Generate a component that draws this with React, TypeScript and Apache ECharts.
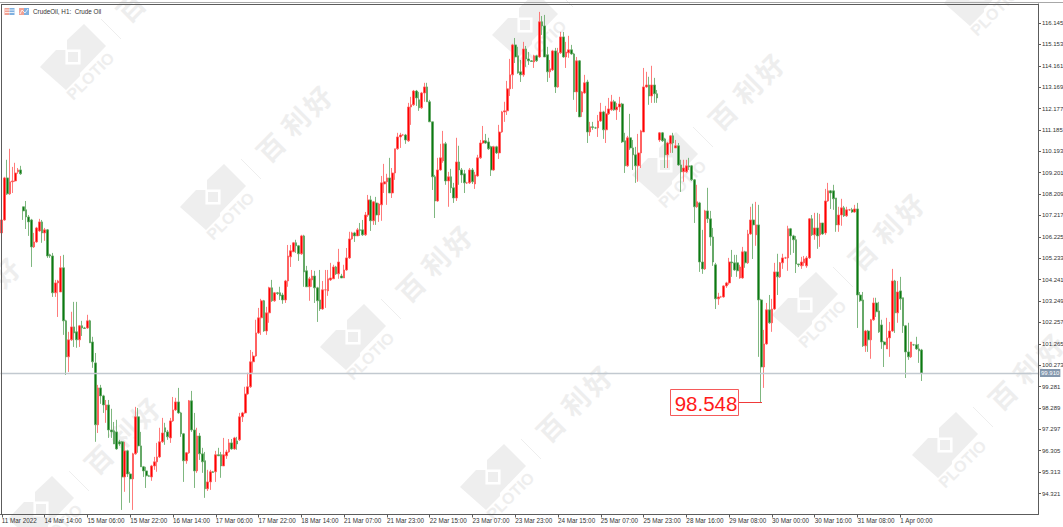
import React, { useEffect, useRef } from "react";
import * as echarts from "echarts";

const dateLabels = ["11 Mar 2022","14 Mar 14:00","15 Mar 06:00","15 Mar 22:00","16 Mar 14:00","17 Mar 06:00","17 Mar 22:00","18 Mar 14:00","21 Mar 07:00","21 Mar 23:00","22 Mar 15:00","23 Mar 07:00","23 Mar 23:00","24 Mar 15:00","25 Mar 07:00","25 Mar 23:00","28 Mar 16:00","29 Mar 08:00","30 Mar 00:00","30 Mar 16:00","31 Mar 08:00","1 Apr 00:00"];
const priceTicks = [94.321,95.313,96.305,97.297,98.289,99.281,100.273,101.265,102.257,103.249,104.241,105.233,106.225,107.217,108.209,109.201,110.193,111.185,112.177,113.169,114.161,115.153,116.145];
const lastPrice = 99.91;
const lowestLabel = "98.548";

const opens = [
106.41,107.01,108.96,108.22,108.78,108.82,109.24,109.33,107.62,107.48,
107.15,107.01,105.76,105.99,106.50,106.92,106.41,106.55,105.39,105.34,
103.63,104.09,103.67,104.79,102.33,100.66,101.45,102.05,101.82,101.45,
102.10,102.00,102.00,102.33,101.35,100.38,97.51,99.22,98.85,98.20,
98.43,97.27,97.23,97.18,96.72,96.72,95.09,96.30,95.23,95.00,
96.16,97.88,96.53,95.56,95.37,95.14,95.09,95.60,95.79,96.02,
96.72,97.37,97.18,96.90,97.69,98.20,98.57,98.06,97.09,95.84,
96.21,98.62,97.27,95.37,96.99,96.16,95.84,94.54,94.86,95.33,
95.33,96.12,96.12,95.60,96.07,96.25,96.67,96.39,96.76,96.81,
97.88,98.06,98.94,99.27,100.43,100.70,101.77,102.47,103.26,101.86,
102.70,103.86,103.26,103.63,103.63,103.53,103.30,104.18,105.30,105.53,
105.95,105.81,105.44,106.27,104.65,103.91,104.23,104.41,103.86,103.30,
102.88,103.77,103.72,104.23,104.28,104.83,104.51,104.41,104.32,104.69,
105.25,106.13,106.41,106.27,106.55,106.55,106.32,107.24,107.94,106.97,
107.80,107.24,107.71,108.68,108.78,108.96,108.26,109.19,110.31,110.86,
110.95,110.95,110.68,112.25,112.35,112.99,112.58,112.21,112.90,113.18,
112.49,111.56,109.01,107.89,109.33,109.75,110.54,108.82,109.01,108.50,
108.03,109.70,109.33,109.15,108.73,108.73,109.33,108.68,109.05,109.89,
110.58,110.68,110.63,110.40,109.33,110.40,110.12,111.09,112.02,112.07,
113.09,113.74,115.13,114.62,113.88,113.74,114.94,114.48,114.39,114.34,
114.62,114.57,116.20,116.01,114.67,113.88,113.97,114.85,113.18,114.76,
115.50,114.57,114.76,114.90,114.71,112.95,114.39,112.02,112.90,113.41,
111.09,111.33,111.28,111.28,111.60,112.02,111.19,111.93,112.12,112.49,
112.12,112.25,112.39,110.68,109.52,110.82,110.35,110.03,109.52,110.12,
111.09,113.18,113.27,112.76,113.27,112.86,110.72,111.05,110.77,110.03,
110.54,110.91,110.35,110.45,109.56,109.24,109.24,109.52,109.52,108.87,
107.62,107.80,105.06,104.74,107.43,107.06,106.22,104.93,103.35,103.44,
103.44,103.95,104.09,105.06,105.02,105.02,104.32,104.32,105.53,105.02,
106.36,107.01,106.32,106.78,103.30,100.19,101.26,102.84,102.24,102.88,
104.60,104.37,105.02,105.25,105.25,106.60,106.27,106.09,104.97,104.88,
105.02,104.88,105.25,107.06,106.32,106.64,106.32,106.87,106.41,107.89,
108.36,108.36,108.03,106.78,107.24,107.57,107.20,107.48,107.48,107.38,
107.52,103.53,103.30,101.17,101.86,101.45,102.38,103.16,102.79,102.14,
101.35,101.03,101.54,101.86,104.18,102.70,103.72,103.40,102.10,100.89,
100.66,101.22,101.22,101.03,100.98];

const closes = [
107.01,108.96,108.22,108.78,108.82,109.19,109.33,109.15,107.43,107.15,
106.92,105.76,105.99,106.64,106.92,106.41,106.55,105.34,105.34,103.63,
104.09,104.18,104.79,102.33,100.66,101.45,102.05,101.77,101.45,102.10,
102.00,101.98,102.33,101.31,100.43,97.51,99.22,98.85,98.43,98.43,
97.27,97.18,96.62,96.39,96.62,95.09,96.30,95.23,95.00,96.16,
97.88,96.53,95.56,95.37,95.14,95.12,95.60,95.79,96.02,96.72,
97.13,97.18,96.95,97.69,98.20,98.57,98.06,97.09,95.84,96.21,
98.62,97.27,95.37,96.99,96.16,95.79,94.54,94.86,95.33,95.30,
96.12,96.07,95.60,96.12,96.25,96.67,96.39,96.90,96.62,97.88,
98.06,98.94,99.27,100.43,100.70,101.77,102.47,103.26,101.86,102.70,
103.86,103.26,103.63,103.60,103.49,103.30,104.18,105.34,105.58,105.95,
105.81,105.44,106.27,104.60,103.91,104.28,104.41,103.86,103.26,102.88,
103.77,103.77,104.28,104.32,104.83,104.51,105.06,104.32,104.69,105.25,
106.13,106.41,106.27,106.55,106.53,106.32,107.24,107.94,106.97,107.85,
107.24,107.75,108.73,108.78,108.96,108.26,109.19,110.31,110.86,110.95,
110.95,110.72,112.25,112.35,112.99,112.67,112.21,112.90,113.18,112.49,
111.56,109.01,107.89,109.33,109.89,110.54,108.82,109.01,108.50,108.03,
109.70,109.33,109.10,108.73,108.73,109.33,108.78,109.10,109.89,110.58,
110.68,110.58,110.31,109.33,110.40,110.12,111.09,112.02,112.07,113.09,
113.74,115.13,114.57,113.83,113.74,114.94,114.48,114.39,114.36,114.62,
114.39,116.20,116.01,114.57,113.88,114.02,114.85,113.18,114.76,115.50,
114.57,114.80,114.90,114.71,112.95,114.39,111.79,112.95,113.37,111.09,
111.33,111.30,111.28,111.60,112.02,111.19,111.93,112.16,112.49,112.12,
112.25,112.39,110.63,109.52,110.82,110.35,110.03,109.52,110.12,111.14,
113.18,113.27,112.76,113.27,112.86,112.67,111.05,110.68,110.03,110.58,
110.91,110.58,110.45,109.56,109.24,109.42,109.52,109.47,108.87,107.62,
107.85,105.06,104.74,107.43,107.06,106.22,105.06,103.35,103.44,103.44,
103.95,104.09,105.06,105.02,104.69,104.65,104.83,105.53,105.02,106.36,
107.01,106.78,106.78,103.30,100.19,101.26,102.84,102.24,102.88,104.60,
104.37,105.02,105.25,105.25,106.60,106.27,106.09,104.97,104.93,105.06,
105.20,105.25,107.06,106.32,106.64,106.27,106.87,106.36,107.89,108.36,
108.26,107.99,106.78,107.24,107.57,107.20,107.48,107.48,107.38,107.52,
103.53,103.26,101.17,101.86,101.45,102.38,103.16,102.75,101.82,101.35,
101.22,101.54,101.86,104.18,102.70,103.67,103.35,102.10,100.89,100.66,
101.35,101.22,101.03,100.94,99.91];

const highs = [
107.01,109.01,109.80,110.31,109.47,109.66,109.42,109.52,107.62,107.89,
107.24,107.06,106.41,106.69,107.06,107.01,106.64,106.59,105.44,105.48,
104.23,104.23,105.34,105.39,102.38,101.82,102.75,103.21,103.21,102.14,
102.33,102.05,102.61,102.38,101.59,100.84,99.36,99.36,98.90,98.66,
98.66,98.25,97.64,97.74,96.81,96.76,96.72,96.35,95.33,96.21,
98.34,98.29,97.18,95.60,95.56,95.19,95.65,96.02,96.67,97.37,
97.83,97.60,97.27,97.83,98.80,98.76,99.22,98.11,97.13,96.25,
98.66,99.08,98.06,97.37,97.13,96.44,96.25,95.42,95.42,95.37,
96.30,96.44,96.25,96.90,96.35,96.85,96.85,96.95,96.95,98.06,
98.11,99.27,99.92,100.98,100.89,102.38,102.93,103.35,103.30,102.98,
103.91,104.23,103.67,103.67,103.91,103.63,104.23,105.85,105.85,105.99,
106.09,105.85,106.32,106.32,104.88,104.37,104.69,104.65,103.91,104.69,
104.18,104.69,104.69,105.02,104.93,104.88,105.67,104.51,104.93,105.71,
106.46,106.46,106.46,106.64,106.87,107.01,107.38,108.17,108.13,107.89,
108.08,107.80,109.05,109.61,109.15,109.89,109.42,110.31,111.05,111.05,
111.00,111.00,112.44,112.72,113.04,113.04,112.95,112.95,113.37,113.37,
112.58,111.56,109.10,109.89,110.54,111.14,110.63,109.24,109.38,108.73,
110.82,110.45,109.42,109.33,108.78,109.42,109.42,109.24,110.03,110.72,
111.37,111.00,110.82,110.45,110.45,110.45,111.42,112.07,112.49,113.46,
114.48,115.18,115.45,115.04,114.43,115.27,115.08,114.80,114.43,114.67,
114.67,116.66,116.47,116.52,115.04,114.43,114.90,114.99,114.99,115.73,
115.73,115.27,115.55,115.13,114.76,114.57,114.43,112.99,113.74,113.51,
111.56,111.56,111.33,111.88,112.44,112.07,112.30,112.67,112.81,112.58,
112.44,112.72,112.44,111.05,110.91,111.93,110.72,110.40,111.00,111.19,
114.06,113.88,113.65,114.16,113.60,113.04,111.09,111.09,110.82,110.63,
110.95,111.05,110.72,110.58,109.80,109.80,109.80,109.89,109.56,108.91,
108.64,107.85,106.55,107.48,108.50,107.43,106.64,105.02,103.63,103.49,
103.98,104.14,105.25,105.62,105.39,105.39,104.93,105.76,105.58,106.55,
107.62,107.76,107.85,107.71,103.35,101.91,103.16,103.53,103.35,105.02,
105.44,105.06,105.44,105.30,106.74,106.64,106.32,106.27,104.97,105.30,
105.34,105.34,107.10,107.24,107.34,107.34,107.29,106.87,108.45,108.73,
108.40,108.64,108.03,107.62,107.99,107.66,107.62,107.52,107.57,107.71,
107.80,103.67,103.67,101.91,101.91,102.42,103.40,103.40,103.21,102.38,
101.40,102.47,102.28,104.74,104.23,104.18,104.37,103.40,102.14,102.24,
101.35,101.26,101.59,101.26,101.03];

const lows = [
106.36,106.97,108.17,108.17,108.26,108.78,109.15,109.10,107.01,106.59,
106.27,104.83,105.71,105.95,106.46,105.95,106.04,105.25,105.25,103.44,
103.44,102.51,103.67,101.68,99.82,99.96,101.40,101.12,101.08,101.12,
101.63,101.96,101.96,101.31,100.15,96.72,97.13,98.48,98.06,97.60,
96.90,96.90,96.62,96.35,96.53,93.56,94.40,95.09,93.89,93.56,
96.12,96.21,95.56,95.09,94.58,95.09,94.91,95.42,95.33,95.97,
96.67,96.58,96.81,96.67,97.64,98.15,98.02,96.95,94.86,95.70,
96.16,97.18,94.58,95.28,95.88,95.28,94.12,94.44,94.49,95.28,
94.86,96.07,95.05,95.60,95.93,96.21,96.35,96.35,96.35,96.76,
97.64,98.02,98.90,99.22,99.92,100.66,101.72,101.68,101.82,101.68,
102.24,103.21,103.21,103.53,103.30,103.12,103.16,103.91,104.83,105.53,
105.48,105.11,105.39,103.91,103.91,103.26,103.91,103.16,102.28,102.79,
102.84,102.93,103.49,104.18,104.28,104.46,104.28,104.32,104.32,104.65,
105.20,106.09,105.99,106.27,106.27,106.27,106.27,107.15,106.50,106.78,
106.78,106.92,106.97,108.26,107.71,108.26,108.03,108.87,110.26,110.35,
110.91,110.54,110.63,111.42,112.30,112.30,112.07,112.16,112.49,112.49,
111.56,108.40,107.10,107.85,109.29,109.66,108.64,107.62,108.26,107.80,
107.89,108.64,108.73,108.26,108.68,108.68,108.68,108.45,109.01,109.84,
110.54,110.54,110.26,109.05,109.29,110.07,109.84,111.05,111.56,111.88,
112.76,113.09,114.29,113.79,113.41,113.65,114.11,114.20,114.34,114.06,
114.34,114.53,115.59,114.57,113.41,113.60,113.92,112.90,113.14,114.71,
114.53,114.06,114.53,114.67,112.58,112.02,111.79,111.79,112.86,110.58,
110.91,111.19,111.23,110.86,111.56,110.77,110.58,111.88,112.07,112.07,
111.65,112.02,110.58,109.19,109.47,110.26,109.33,108.73,108.78,109.42,
111.09,113.14,112.35,112.44,112.44,112.44,110.63,110.63,109.42,109.42,
110.12,110.12,110.35,109.52,108.31,108.78,109.19,109.33,108.82,106.87,
107.57,104.60,104.51,104.69,106.87,105.81,104.88,102.88,103.07,103.40,
103.40,103.86,104.00,104.37,104.65,104.37,104.28,104.28,104.79,104.97,
106.32,105.20,105.81,100.66,98.548,99.22,101.22,102.19,101.82,102.84,
103.53,104.32,104.74,105.20,104.65,105.39,105.48,104.55,104.83,104.74,
104.88,104.79,105.20,106.27,106.09,105.67,105.76,106.32,106.32,107.85,
107.52,107.48,106.46,106.46,106.74,107.15,107.15,107.43,107.34,107.34,
102.00,103.21,101.12,100.89,100.89,100.57,102.33,102.51,101.77,101.03,
100.19,101.03,100.66,101.82,101.77,102.24,102.84,101.77,99.68,100.52,
100.61,101.17,100.98,100.38,99.54];

const CATEGORY_COUNT = 388;
const LABEL_STEP = 16;
const categories = Array.from({ length: CATEGORY_COUNT }, (_, i) =>
  i % LABEL_STEP === 0 ? dateLabels[i / LABEL_STEP] ?? "" : ""
);
const candles = opens.map((o, i) => [o, closes[i], lows[i], highs[i]]);
const showLabel = (i: number) => i % LABEL_STEP === 0 && i / LABEL_STEP < dateLabels.length;

const WM = "#eeeeee";

function watermark(cx: number, cy: number): any[] {
  const pts = [[-33, 10], [-17, -7], [-6, -7], [-6, -17], [11, -33], [33, -11], [7, 16], [7, 19], [-7, 33]];
  const out: any[] = [
    { type: "polygon", z: -10, silent: true, shape: { points: pts.map(([x, y]) => [cx + x, cy + y]) }, style: { fill: WM } },
    { type: "rect", z: -9, silent: true, shape: { x: cx - 6.3, y: cy - 6.3, width: 12.6, height: 12.6 }, style: { fill: WM, stroke: "#ffffff", lineWidth: 2.6 } },
    { type: "text", z: -10, silent: true, x: cx + 17.5, y: cy + 19, rotation: Math.PI / 4, style: { text: "PLOTIO", fill: WM, font: 'bold 16px "Liberation Sans"', align: "center", verticalAlign: "middle" } },
    { type: "line", z: -10, silent: true, shape: { x1: cx + 28, y1: cy - 38, x2: cx + 48, y2: cy - 18 }, style: { stroke: WM, lineWidth: 1 } },
  ];
  const glyphs: [string, number, number][] = [["百", 57, -50], ["利", 82, -76], ["好", 104, -97]];
  for (const [g, dx, dy] of glyphs) {
    out.push({ type: "text", z: -10, silent: true, x: cx + dx, y: cy + dy, rotation: Math.PI / 4, style: { text: g, fill: WM, font: 'bold 27px "Noto Sans CJK SC"', align: "center", verticalAlign: "middle" } });
  }
  return out;
}

function watermarks(): any[] {
  const out: any[] = [];
  for (let m = -1; m <= 2; m++) {
    for (let n = -3; n <= 6; n++) {
      const x = 73 + 140 * n + 312 * m;
      const y = 57 + 140 * n - 172 * m;
      if (x > -130 && x < 1130 && y > -120 && y < 600) out.push(...watermark(x, y));
    }
  }
  return out;
}

function icons(): any[] {
  const out: any[] = [];
  for (const x0 of [4.5, 19]) {
    out.push(
      { type: "rect", z: 20, silent: true, shape: { x: x0, y: 8, width: 5, height: 7 }, style: { fill: "#f2a193" } },
      { type: "rect", z: 20, silent: true, shape: { x: x0 + 5, y: 8, width: 5, height: 7 }, style: { fill: "#7fb0e0" } }
    );
  }
  for (const y of [10, 12.5]) {
    out.push({ type: "line", z: 21, silent: true, shape: { x1: 5, y1: y, x2: 14.5, y2: y }, style: { stroke: "#ffffff", lineWidth: 0.8 } });
  }
  out.push({ type: "polyline", z: 21, silent: true, shape: { points: [[20, 14], [22, 10], [25, 13], [28, 9]] }, style: { stroke: "#ffffff", lineWidth: 0.8, fill: "none" } });
  return out;
}

export default function App() {
  const ref = useRef<HTMLDivElement>(null);
  useEffect(() => {
    document.body.style.margin = "0";
    const chart = echarts.init(ref.current!, undefined, { renderer: "svg", width: 1063, height: 527 });
    chart.setOption({
      animation: false,
      backgroundColor: "#ffffff",
      grid: { left: 0.5, right: 25, top: 4, bottom: 12.5, containLabel: false, outerBoundsMode: "none" },
      xAxis: {
        type: "category",
        data: categories,
        boundaryGap: true,
        axisLine: { show: true, lineStyle: { color: "#5c5c5c", width: 1 } },
        axisTick: { show: true, alignWithLabel: true, interval: (i: number) => showLabel(i), length: 3, lineStyle: { color: "#5c5c5c" } },
        axisLabel: { show: true, interval: (i: number) => showLabel(i), align: "left", margin: 3, fontSize: 6.3, fontFamily: "Liberation Sans", color: "#333333", hideOverlap: false },
        splitLine: { show: false },
      },
      yAxis: {
        type: "value",
        position: "right",
        min: 93.348,
        max: 117.026,
        scale: true,
        axisLine: { show: true, lineStyle: { color: "#5c5c5c", width: 1 } },
        axisTick: { show: true, length: 3, customValues: priceTicks, lineStyle: { color: "#5c5c5c" } },
        axisLabel: { show: true, customValues: priceTicks, margin: 4, fontSize: 6, fontFamily: "Liberation Sans", color: "#333333", formatter: (v: number) => v.toFixed(3) },
        splitLine: { show: false },
      },
      series: [
        {
          type: "candlestick",
          data: candles,
          barWidth: 2.2,
          clip: true,
          itemStyle: { color: "#ff0000", color0: "#0a7a12", borderColor: "#ff5a5a", borderColor0: "#5ea560", borderWidth: 0.8 },
          markLine: {
            silent: true,
            symbol: "none",
            animation: false,
            data: [{ yAxis: lastPrice }],
            lineStyle: { color: "#c2c9d0", width: 1.4, type: "solid" },
            label: { show: true, position: "end", formatter: lastPrice.toFixed(3), distance: 2, fontSize: 6, fontFamily: "Liberation Sans", color: "#ffffff", backgroundColor: "#8497ad", padding: [1, 1] },
          },
        },
      ],
      graphic: {
        elements: [
          ...watermarks(),
          { type: "line", z: 20, silent: true, shape: { x1: 0, y1: 2.5, x2: 1063, y2: 2.5 }, style: { stroke: "#a8a8a8", lineWidth: 1 } },
          { type: "line", z: 20, silent: true, shape: { x1: 1.5, y1: 4.5, x2: 1038, y2: 4.5 }, style: { stroke: "#5c5c5c", lineWidth: 1 } },
          { type: "line", z: 20, silent: true, shape: { x1: 1.5, y1: 4, x2: 1.5, y2: 515 }, style: { stroke: "#5c5c5c", lineWidth: 1 } },
          ...icons(),
          { type: "text", z: 20, silent: true, x: 33, y: 11.5, style: { text: "CrudeOil, H1:  Crude Oil", fill: "#333333", font: '6.3px "Liberation Sans"', verticalAlign: "middle" } },
          { type: "line", z: 30, silent: true, shape: { x1: 738, y1: 402.5, x2: 762, y2: 402.5 }, style: { stroke: "#f03a3a", lineWidth: 1 } },
          { type: "rect", z: 30, silent: true, shape: { x: 670.5, y: 389.5, width: 68, height: 26 }, style: { fill: "#ffffff", stroke: "#f55a5a", lineWidth: 1 } },
          { type: "text", z: 31, silent: true, x: 706, y: 403, style: { text: lowestLabel, fill: "#ff1a1a", font: '20.5px "Liberation Sans"', align: "center", verticalAlign: "middle" } },
        ],
      },
    });
    return () => chart.dispose();
  }, []);
  return <div ref={ref} style={{ width: 1063, height: 527 }} />;
}
